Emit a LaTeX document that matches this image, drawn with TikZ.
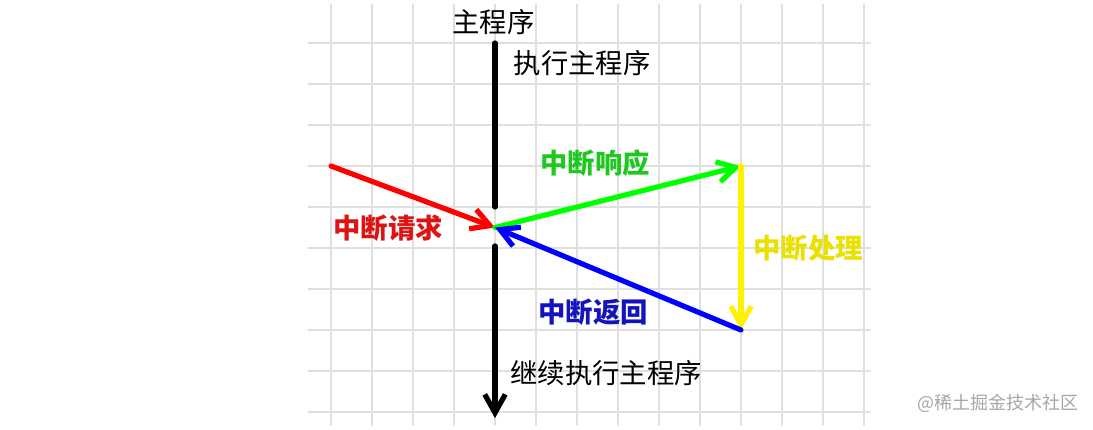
\documentclass[tikz,border=0pt]{standalone}
\usepackage{fontspec}
\newfontfamily\cjk{Noto Sans CJK SC}
\usetikzlibrary{arrows.meta}

\begin{document}
\begin{tikzpicture}[>={Straight Barb[length=4.5mm,width=5mm]}, line cap=round]
  \tikzstyle{label} = [inner sep=0pt, font=\cjk\fontsize{19pt}{19pt}\selectfont]
  \tikzstyle{bold} = [label, font=\cjk\bfseries\fontsize{19pt}{19pt}\selectfont]
  \tikzstyle{flow} = [line width=3.6pt]
  \useasboundingbox (-8.073,-0.415) rectangle (18.585,10.049);
  % grid
  \foreach \y in {0,...,9}
    \draw [gray!25, line width=0.9pt] (-0.56,\y) -- (13.15,\y);
  \foreach \x in {0,...,13}
    \draw [gray!25, line width=0.9pt] (\x,-0.32) -- (\x,9.95);

  \coordinate (top) at (4,9);
  \coordinate (gap) at (4,5);
  \coordinate (int) at (4,4.5);
  \coordinate (resume) at (4,4.05);
  \coordinate (end) at (4,-0.15);
  \coordinate (req) at (0,6);
  \coordinate (isr) at (10,6);
  \coordinate (ret) at (10,2);

  \node [label, anchor=south] (main) at (3.96,9.2) {主程序};
  \node [label, anchor=west] (run) at (4.45,8.51) {执行主程序};
  \node [bold, anchor=west, text={rgb,255:red,220;green,20;blue,20}] (reqtxt) at (0.05,4.49) {中断请求};
  \node [bold, anchor=west, text={rgb,255:red,30;green,200;blue,30}] (acktxt) at (5.1,6.07) {中断响应};
  \node [bold, anchor=west, text={rgb,255:red,235;green,225;blue,0}] (isrtxt) at (10.3,4.0) {中断处理};
  \node [bold, anchor=west, text={rgb,255:red,20;green,20;blue,190}] (rettxt) at (5.05,2.44) {中断返回};
  \node [label, anchor=west] (cont) at (4.37,0.95) {继续执行主程序};
  \node [inner sep=0pt, anchor=west, text=gray!70, font=\cjk\fontsize{12.5pt}{12.5pt}\selectfont] (mark) at (14.29,0.22) {@稀土掘金技术社区};

  \draw [flow] (top) -- (gap);
  \draw [flow, ->] (resume) -- (end);
  \draw [flow, red, ->] (req) -- (int);
  \draw [flow, green, ->] (int) -- (isr);
  \draw [flow, yellow, ->] (isr) -- (ret);
  \draw [flow, blue, ->] (ret) -- (int);
\end{tikzpicture}
\end{document}
